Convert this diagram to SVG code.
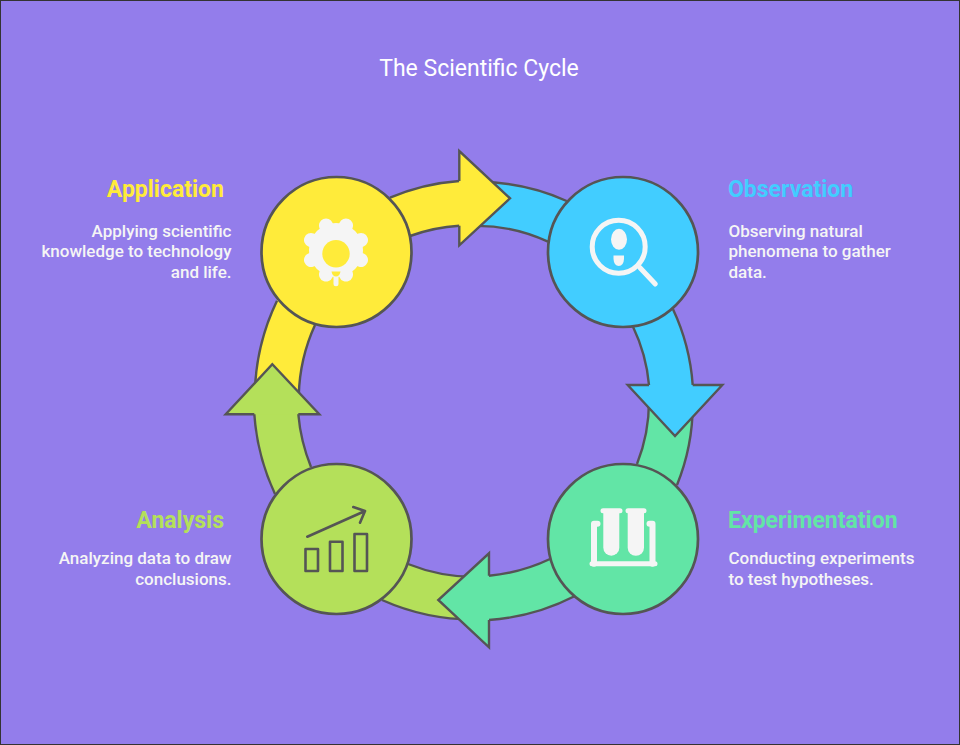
<svg xmlns="http://www.w3.org/2000/svg" width="960" height="745" viewBox="0 0 960 745">
<style>
text{font-family:Roboto,"Liberation Sans",sans-serif}
.title{font-size:23px;fill:#fff;text-anchor:middle}
.h{font-size:23px;font-weight:700}
.b{font-size:17px;font-weight:500;fill:#f5f5f5}
.e{text-anchor:end}
.edge{fill:none;stroke:#555;stroke-width:2.4}
.head{stroke:#555;stroke-width:2.4;stroke-linejoin:miter}
.nofill{stroke:none}
.node{stroke:#555;stroke-width:2.7}
.ic{fill:#f5f5f5;stroke:none}
.ico{fill:none;stroke:#555;stroke-width:2.6;stroke-linejoin:round;stroke-linecap:round}
</style>
<rect x="0" y="0" width="960" height="745" fill="#937deb" stroke="#333" stroke-width="2"/>
<text class="title" x="479" y="75.500">The Scientific Cycle</text>
<g id="connectors">
<g id="band-observation">
<path class="nofill" fill="#42cdff" d="M480 182A213 213 0 0 1 566.700 201A213 213 0 0 1 673 309.300A213 213 0 0 1 692.700 385L692.700 388L649 388L649 385A169 169 0 0 0 633 326.700A169 169 0 0 0 548 241.700A169 169 0 0 0 470 226Z"/>
<path class="edge" d="M480 182A213 213 0 0 1 566.700 201M673 309.300A213 213 0 0 1 692.700 385M649 385A169 169 0 0 0 633 326.700M548 241.700A169 169 0 0 0 470 226"/>
</g>
<g id="band-experimentation">
<path class="nofill" fill="#62e5a6" d="M692.700 400A214 214 0 0 1 677 485A218 218 0 0 1 575 596A224 224 0 0 1 489 620L486 620L486 575.700L489 575.700A180 180 0 0 0 550 559A176 176 0 0 0 637 464A170 170 0 0 0 649 400Z"/>
<path class="edge" d="M692.700 400A214 214 0 0 1 677 485M575 596A224 224 0 0 1 489 620M489 575.700A180 180 0 0 0 550 559M637 464A170 170 0 0 0 649 400"/>
</g>
<g id="band-analysis">
<path class="nofill" fill="#b4e05a" d="M475 619.500A225 225 0 0 1 382 600A226 226 0 0 1 275 494A226 226 0 0 1 254.300 414L254.300 411L298.300 411L298.300 414A183 183 0 0 0 311 467A183 183 0 0 0 408 564A182 182 0 0 0 475 577Z"/>
<path class="edge" d="M475 619.500A225 225 0 0 1 382 600M275 494A226 226 0 0 1 254.300 414M298.300 414A183 183 0 0 0 311 467M408 564A182 182 0 0 0 475 577"/>
</g>
<g id="band-application">
<path class="nofill" fill="#ffeb3a" d="M254.800 395A225 225 0 0 1 277 300.700A222 222 0 0 1 390 197.700A216 216 0 0 1 459.300 181L462 181L462 225.700L459.300 225.700A172 172 0 0 0 410 236A176 176 0 0 0 315 325A180 180 0 0 0 298.800 395Z"/>
<path class="edge" d="M254.800 395A225 225 0 0 1 277 300.700M390 197.700A216 216 0 0 1 459.300 181M459.300 225.700A172 172 0 0 0 410 236M315 325A180 180 0 0 0 298.800 395"/>
</g>
<path id="head-observation" class="head" fill="#42cdff" d="M649 385L627.700 385L675 436L722.300 385L692.700 385"/>
<path id="head-experimentation" class="head" fill="#62e5a6" d="M489 575.700L489 553.300L438.300 600L489 647.300L489 620"/>
<path id="head-analysis" class="head" fill="#b4e05a" d="M298.300 414.300L319.300 414.300L272.300 364.300L225.700 414.300L254.300 414.300"/>
<path id="head-application" class="head" fill="#ffeb3a" d="M459.300 181L459.300 151L510 198.300L459.300 245.300L459.300 225.700"/>
</g>
<g id="node-application">
<circle class="node" cx="336.500" cy="252" r="75" fill="#ffeb3a"/>
<circle class="ic" cx="336" cy="250" r="27"/>
<path d="M346 225.500L326 274.500M326 225.500L346 274.500M361 240L311 260M311 240L361 260" fill="none" stroke="#f5f5f5" stroke-width="14" stroke-linecap="round"/>
<path d="M336 274L336 283.800" fill="none" stroke="#f5f5f5" stroke-width="5" stroke-linecap="round"/>
<circle cx="336" cy="253.700" r="13.700" fill="#ffeb3a"/>
<path d="M331.500 271.500L340.500 271.500Q339.500 276.500 336 276.500Q332.500 276.500 331.500 271.500Z" fill="#ffeb3a"/>
<text class="h e" x="224" y="197" fill="#ffeb3a">Application</text>
<text class="b e" x="231.500" y="237">Applying scientific</text>
<text class="b e" x="231.500" y="257">knowledge to technology</text>
<text class="b e" x="231.500" y="278">and life.</text>
</g>
<g id="node-observation">
<circle class="node" cx="623" cy="252" r="75" fill="#42cdff"/>
<circle cx="618.700" cy="246.700" r="26.500" fill="none" stroke="#f5f5f5" stroke-width="5"/>
<path d="M640 267.700L655.300 284" fill="none" stroke="#f5f5f5" stroke-width="5" stroke-linecap="round"/>
<ellipse class="ic" cx="619" cy="239.300" rx="8" ry="10.500"/>
<path class="ic" d="M613.500 255.500L624 255.500L624 259Q623.500 266 618.800 266Q614 266 613.500 259Z"/>
<text class="h" x="728" y="197" fill="#42cdff">Observation</text>
<text class="b" x="728.500" y="237">Observing natural</text>
<text class="b" x="728.500" y="257">phenomena to gather</text>
<text class="b" x="728.500" y="278">data.</text>
</g>
<g id="node-experimentation">
<circle class="node" cx="623" cy="539" r="75" fill="#62e5a6"/>
<path class="ic" d="M603.300 512L619.300 512L619.300 547.700A8 8 0 0 1 603.300 547.700Z"/>
<path class="ic" d="M627.700 512L644 512L644 547.700A8.150 8.150 0 0 1 627.700 547.700Z"/>
<path d="M603 510.700L620 510.700M628 510.700L644 510.700M592 563.700L655 563.700" fill="none" stroke="#f5f5f5" stroke-width="5" stroke-linecap="round"/>
<path d="M594 563.700L594 523.800L597.500 523.800M652.500 563.700L652.500 523.800L649.500 523.800" fill="none" stroke="#f5f5f5" stroke-width="6" stroke-linecap="round" stroke-linejoin="round"/>
<text class="h" x="728" y="528" fill="#62e5a6">Experimentation</text>
<text class="b" x="728.500" y="564">Conducting experiments</text>
<text class="b" x="728.500" y="585">to test hypotheses.</text>
</g>
<g id="node-analysis">
<circle class="node" cx="336.500" cy="539" r="75" fill="#b4e05a"/>
<rect class="ico" x="305.500" y="549" width="12.500" height="22"/>
<rect class="ico" x="330" y="541.700" width="12.500" height="29.300"/>
<rect class="ico" x="354.500" y="534" width="12.500" height="37"/>
<path class="ico" d="M307.300 536.700L365 511M353.300 507L365 511L360 522.700"/>
<text class="h e" x="224" y="528" fill="#b4e05a">Analysis</text>
<text class="b e" x="231.500" y="564">Analyzing data to draw</text>
<text class="b e" x="231.500" y="585">conclusions.</text>
</g>
</svg>
